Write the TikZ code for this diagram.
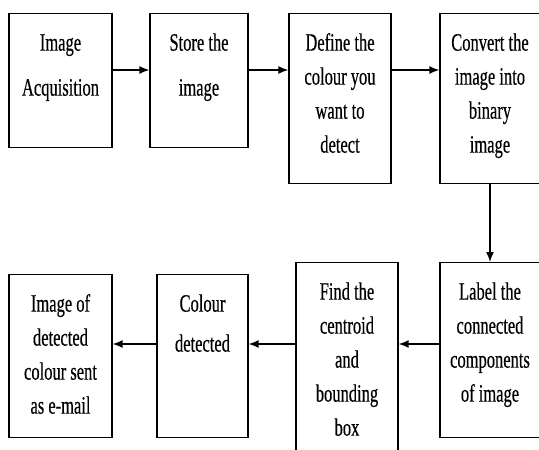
\documentclass[tikz,border=0pt]{standalone}
\usepackage{fontspec}
\setmainfont{Liberation Serif}[FakeStretch=0.66, WordSpace=1.0, FakeBold=0.4]
\usepackage{tikz}
\usetikzlibrary{arrows.meta}
\tikzstyle{stage} = [rectangle, draw, line width=1.3pt, anchor=north, align=flush center,
    text height=33pt, inner xsep=2pt, inner ysep=4pt, font=\fontsize{25}{34}\selectfont]
\tikzstyle{arrow} = [draw, -{Latex[length=10pt,width=8pt]}, line width=1.5pt]

\begin{document}
\begin{tikzpicture}[x=1pt, y=-1pt]
    \useasboundingbox (0,0) rectangle (539,450);
    \clip (0,0) rectangle (539,450);
    % Place nodes
    \node [stage, text width=99pt, text depth=93pt] (acquisition) at (60.5,13) {Image\\[11pt]Acquisition};
    \node [stage, text width=94pt, text depth=93pt] (storeImage) at (199,13) {Store the\\[11pt]image};
    \node [stage, text width=98pt, text depth=129pt] (defineColour) at (340,13) {Define the\\colour you\\want to\\detect};
    \node [stage, text width=96pt, text depth=129pt] (convertBinary) at (490,13) {Convert the\\image into\\binary\\image};
%
    \node [stage, text width=96pt, text depth=134pt] (labelComponents) at (490,262) {Label the\\connected\\components\\of image};
    \node [stage, text width=98pt, text depth=159pt] (findCentroid) at (347,262) {Find the\\centroid\\and\\bounding\\box};
    \node [stage, text width=87pt, text depth=122pt] (colourDetected) at (202.5,274) {Colour\\[6pt]detected};
    \node [stage, text width=99pt, text depth=122pt] (sendMail) at (60.5,274) {Image of\\detected\\colour sent\\as e-mail};
    % Connect nodes
    \path [arrow] ([yshift=-57pt]acquisition.north east) -- ([yshift=-57pt]storeImage.north west);
    \path [arrow] ([yshift=-57pt]storeImage.north east) -- ([yshift=-57pt]defineColour.north west);
    \path [arrow] ([yshift=-57pt]defineColour.north east) -- ([yshift=-57pt]convertBinary.north west);
    \path [arrow] (convertBinary.south) -- (labelComponents.north);
    \path [arrow] ([yshift=-82pt]labelComponents.north west) -- ([yshift=-82pt]findCentroid.north east);
    \path [arrow] ([yshift=-82pt]findCentroid.north west) -- ([yshift=-70pt]colourDetected.north east);
    \path [arrow] ([yshift=-70pt]colourDetected.north west) -- ([yshift=-70pt]sendMail.north east);
\end{tikzpicture}
\end{document}
